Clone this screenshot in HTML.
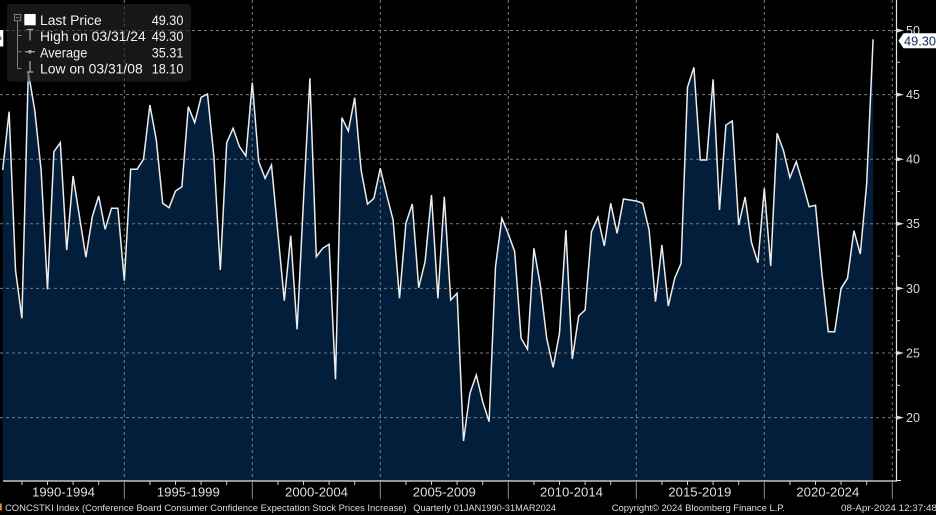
<!DOCTYPE html>
<html>
<head>
<meta charset="utf-8">
<style>
  html, body { margin: 0; padding: 0; background: #000; }
  body { width: 936px; height: 515px; overflow: hidden; }
  svg { display: block; }
  text { font-family: "Liberation Sans", "DejaVu Sans", sans-serif; }
</style>
</head>
<body>
<svg width="936" height="515" viewBox="0 0 936 515" xmlns="http://www.w3.org/2000/svg">
  <rect x="0" y="0" width="936" height="515" fill="#000"/>

  <!-- area fill -->
  <polygon fill="#031e3a" points="2.7,481 2.7,170 9.1,111.7 15.5,270 21.9,318.3 28.3,72 34.7,110 41.1,170 47.5,289.3 53.9,151.7 60.3,142.7 66.7,250 73.1,176 79.5,216.7 85.9,257.3 92.3,216.7 98.7,196 105.1,229.3 111.5,208.3 117.9,208.3 124.3,280.7 130.7,169.3 137.1,169.3 143.5,159.3 149.9,105 156.3,140 162.7,203.3 169.1,207.7 175.5,191 181.9,186.7 188.3,106.7 194.7,122.7 201.1,97.3 207.5,94 213.9,156.7 220.3,270 226.7,142.7 233.1,128.3 239.5,146.7 245.9,156 252.3,82.7 258.7,161.7 265.1,178.3 271.5,165 277.9,233 284.3,300.7 290.7,235.7 297.1,329.3 303.5,200 309.9,78.3 316.3,256.7 322.7,248.3 329.1,244.3 335.5,379.3 341.9,117.7 348.3,131 354.7,97.7 361.1,170 367.5,204 373.9,198.3 380.3,168.3 386.7,195 393.1,220 399.5,298.3 405.9,223.3 412.3,204 418.7,287.7 425.1,261.7 431.5,195 437.9,298.3 444.3,196.7 450.7,300 457.1,293.3 463.5,441 469.9,393.3 476.3,375 482.7,401.7 489.1,421.7 495.5,266.7 501.9,218.3 508.3,234 514.7,251.7 521.1,338.3 527.5,349.3 533.9,248.3 540.3,285 546.7,338.3 553.1,367.3 559.5,333.3 565.9,230 572.3,359 578.7,316 585.1,310 591.5,231.7 597.9,217.3 604.3,246 610.7,203.3 617.1,233.3 623.5,199 629.9,200 636.3,201 642.7,203.3 649.1,230 655.5,301.7 661.9,245 668.3,306 674.7,278.3 681.1,263.3 687.5,87.3 693.9,67.3 700.3,160 706.7,160 713.1,79.3 719.5,210 725.9,125 732.3,121 738.7,225 745.1,197 751.5,242.5 757.9,262.7 764.3,188.3 770.7,266 777.1,133.3 783.5,150.7 789.9,177.7 796.3,161.7 802.7,183.3 809.1,206.7 815.5,205.3 821.9,273.3 828.3,331.7 834.7,331.7 841.1,288.3 847.5,278.3 853.9,230.7 860.3,254 866.7,183.3 873.1,39.3 873.1,481"/>

  <!-- horizontal grid -->
  <g stroke="#7a7a7a" stroke-width="1" stroke-dasharray="3,3" fill="none">
    <line x1="0" y1="30.5" x2="896" y2="30.5"/>
    <line x1="0" y1="94.6" x2="896" y2="94.6"/>
    <line x1="0" y1="159.2" x2="896" y2="159.2"/>
    <line x1="0" y1="223.8" x2="896" y2="223.8"/>
    <line x1="0" y1="288.4" x2="896" y2="288.4"/>
    <line x1="0" y1="353" x2="896" y2="353"/>
    <line x1="0" y1="417.6" x2="896" y2="417.6"/>
    <!-- vertical grid -->
    <line x1="124.3" y1="0" x2="124.3" y2="481"/>
    <line x1="252.3" y1="0" x2="252.3" y2="481"/>
    <line x1="380.3" y1="0" x2="380.3" y2="481"/>
    <line x1="508.3" y1="0" x2="508.3" y2="481"/>
    <line x1="636.3" y1="0" x2="636.3" y2="481"/>
    <line x1="764.3" y1="0" x2="764.3" y2="481"/>
    <line x1="892.3" y1="0" x2="892.3" y2="481"/>
  </g>

  <!-- data line -->
  <polyline fill="none" stroke="#ececec" stroke-width="1.5" stroke-linejoin="miter" points="2.7,170 9.1,111.7 15.5,270 21.9,318.3 28.3,72 34.7,110 41.1,170 47.5,289.3 53.9,151.7 60.3,142.7 66.7,250 73.1,176 79.5,216.7 85.9,257.3 92.3,216.7 98.7,196 105.1,229.3 111.5,208.3 117.9,208.3 124.3,280.7 130.7,169.3 137.1,169.3 143.5,159.3 149.9,105 156.3,140 162.7,203.3 169.1,207.7 175.5,191 181.9,186.7 188.3,106.7 194.7,122.7 201.1,97.3 207.5,94 213.9,156.7 220.3,270 226.7,142.7 233.1,128.3 239.5,146.7 245.9,156 252.3,82.7 258.7,161.7 265.1,178.3 271.5,165 277.9,233 284.3,300.7 290.7,235.7 297.1,329.3 303.5,200 309.9,78.3 316.3,256.7 322.7,248.3 329.1,244.3 335.5,379.3 341.9,117.7 348.3,131 354.7,97.7 361.1,170 367.5,204 373.9,198.3 380.3,168.3 386.7,195 393.1,220 399.5,298.3 405.9,223.3 412.3,204 418.7,287.7 425.1,261.7 431.5,195 437.9,298.3 444.3,196.7 450.7,300 457.1,293.3 463.5,441 469.9,393.3 476.3,375 482.7,401.7 489.1,421.7 495.5,266.7 501.9,218.3 508.3,234 514.7,251.7 521.1,338.3 527.5,349.3 533.9,248.3 540.3,285 546.7,338.3 553.1,367.3 559.5,333.3 565.9,230 572.3,359 578.7,316 585.1,310 591.5,231.7 597.9,217.3 604.3,246 610.7,203.3 617.1,233.3 623.5,199 629.9,200 636.3,201 642.7,203.3 649.1,230 655.5,301.7 661.9,245 668.3,306 674.7,278.3 681.1,263.3 687.5,87.3 693.9,67.3 700.3,160 706.7,160 713.1,79.3 719.5,210 725.9,125 732.3,121 738.7,225 745.1,197 751.5,242.5 757.9,262.7 764.3,188.3 770.7,266 777.1,133.3 783.5,150.7 789.9,177.7 796.3,161.7 802.7,183.3 809.1,206.7 815.5,205.3 821.9,273.3 828.3,331.7 834.7,331.7 841.1,288.3 847.5,278.3 853.9,230.7 860.3,254 866.7,183.3 873.1,39.3"/>

  <!-- axes -->
  <line x1="3" y1="481" x2="897" y2="481" stroke="#e6e6e6" stroke-width="1.2"/>
  <line x1="896.5" y1="0" x2="896.5" y2="481" stroke="#e6e6e6" stroke-width="1.2"/>
  <line x1="896" y1="480.5" x2="901" y2="480.5" stroke="#e6e6e6" stroke-width="1"/>

  <!-- x major separators -->
  <g stroke="#8a8a8a" stroke-width="1">
    <line x1="124.3" y1="481" x2="124.3" y2="499"/>
    <line x1="252.3" y1="481" x2="252.3" y2="499"/>
    <line x1="380.3" y1="481" x2="380.3" y2="499"/>
    <line x1="508.3" y1="481" x2="508.3" y2="499"/>
    <line x1="636.3" y1="481" x2="636.3" y2="499"/>
    <line x1="764.3" y1="481" x2="764.3" y2="499"/>
    <line x1="892.3" y1="481" x2="892.3" y2="499"/>
  </g>
  <!-- x minor ticks (years) -->
  <g stroke="#d0d0d0" stroke-width="1">
    <line x1="21.9" y1="481" x2="21.9" y2="485"/>
    <line x1="47.5" y1="481" x2="47.5" y2="485"/>
    <line x1="73.1" y1="481" x2="73.1" y2="485"/>
    <line x1="98.7" y1="481" x2="98.7" y2="485"/>
    <line x1="149.9" y1="481" x2="149.9" y2="485"/>
    <line x1="175.5" y1="481" x2="175.5" y2="485"/>
    <line x1="201.1" y1="481" x2="201.1" y2="485"/>
    <line x1="226.7" y1="481" x2="226.7" y2="485"/>
    <line x1="277.9" y1="481" x2="277.9" y2="485"/>
    <line x1="303.5" y1="481" x2="303.5" y2="485"/>
    <line x1="329.1" y1="481" x2="329.1" y2="485"/>
    <line x1="354.7" y1="481" x2="354.7" y2="485"/>
    <line x1="405.9" y1="481" x2="405.9" y2="485"/>
    <line x1="431.5" y1="481" x2="431.5" y2="485"/>
    <line x1="457.1" y1="481" x2="457.1" y2="485"/>
    <line x1="482.7" y1="481" x2="482.7" y2="485"/>
    <line x1="533.9" y1="481" x2="533.9" y2="485"/>
    <line x1="559.5" y1="481" x2="559.5" y2="485"/>
    <line x1="585.1" y1="481" x2="585.1" y2="485"/>
    <line x1="610.7" y1="481" x2="610.7" y2="485"/>
    <line x1="661.9" y1="481" x2="661.9" y2="485"/>
    <line x1="687.5" y1="481" x2="687.5" y2="485"/>
    <line x1="713.1" y1="481" x2="713.1" y2="485"/>
    <line x1="738.7" y1="481" x2="738.7" y2="485"/>
    <line x1="789.9" y1="481" x2="789.9" y2="485"/>
    <line x1="815.5" y1="481" x2="815.5" y2="485"/>
    <line x1="841.1" y1="481" x2="841.1" y2="485"/>
    <line x1="866.7" y1="481" x2="866.7" y2="485"/>
  </g>

  <!-- x labels -->
  <g fill="#dedede" font-size="13" text-anchor="middle">
    <text x="63.5" y="496.5" textLength="63" lengthAdjust="spacingAndGlyphs">1990-1994</text>
    <text x="188.3" y="496.5" textLength="63" lengthAdjust="spacingAndGlyphs">1995-1999</text>
    <text x="316.5" y="496.5" textLength="63" lengthAdjust="spacingAndGlyphs">2000-2004</text>
    <text x="444.3" y="496.5" textLength="63" lengthAdjust="spacingAndGlyphs">2005-2009</text>
    <text x="571.5" y="496.5" textLength="63" lengthAdjust="spacingAndGlyphs">2010-2014</text>
    <text x="699.8" y="496.5" textLength="63" lengthAdjust="spacingAndGlyphs">2015-2019</text>
    <text x="827.8" y="496.5" textLength="63" lengthAdjust="spacingAndGlyphs">2020-2024</text>
  </g>

  <!-- y minor ticks -->
  <g stroke="#d0d0d0" stroke-width="1">
    <line x1="896" y1="62.3" x2="900" y2="62.3"/>
    <line x1="896" y1="126.9" x2="900" y2="126.9"/>
    <line x1="896" y1="191.5" x2="900" y2="191.5"/>
    <line x1="896" y1="256.1" x2="900" y2="256.1"/>
    <line x1="896" y1="320.7" x2="900" y2="320.7"/>
    <line x1="896" y1="385.3" x2="900" y2="385.3"/>
    <line x1="896" y1="449.9" x2="900" y2="449.9"/>
  </g>
  <!-- y major tick markers -->
  <g fill="#d6d6d6">
    <polygon points="897,92.6 904,94.6 897,96.6"/>
    <polygon points="897,157.2 904,159.2 897,161.2"/>
    <polygon points="897,221.8 904,223.8 897,225.8"/>
    <polygon points="897,286.4 904,288.4 897,290.4"/>
    <polygon points="897,351 904,353 897,355"/>
    <polygon points="897,415.6 904,417.6 897,419.6"/>
    <polygon points="897,28.5 904,30.5 897,32.5"/>
  </g>
  <!-- y labels -->
  <g fill="#dadada" font-size="12.5">
    <text x="906" y="34.8">50</text>
    <text x="906" y="99">45</text>
    <text x="906" y="163.6">40</text>
    <text x="906" y="228.2">35</text>
    <text x="906" y="292.8">30</text>
    <text x="906" y="357.4">25</text>
    <text x="906" y="422">20</text>
  </g>

  <!-- last value tag -->
  <polygon points="898.5,40.7 903.5,33.3 936,33.3 936,48.2 903.5,48.2" fill="#ffffff"/>
  <text x="904" y="45.6" fill="#0e2a50" font-size="13" textLength="32" lengthAdjust="spacingAndGlyphs">49.30</text>

  <!-- left edge marker -->
  <rect x="0" y="30" width="3.3" height="16.5" fill="#ffffff"/>
  <rect x="0" y="36.5" width="1.3" height="3.5" fill="#3a78c0"/>

  <!-- legend -->
  <rect x="7" y="4" width="184" height="77.5" rx="3.5" fill="#262626" fill-opacity="0.6"/>
  <g stroke="#808080" stroke-width="1" fill="none">
    <rect x="14.5" y="14.5" width="6.3" height="6.3"/>
    <line x1="15.8" y1="17.7" x2="19.6" y2="17.7"/>
    <line x1="17.5" y1="21" x2="17.5" y2="68.5"/>
    <line x1="17.5" y1="35.5" x2="21.5" y2="35.5"/>
    <line x1="17.5" y1="51.7" x2="21.5" y2="51.7"/>
    <line x1="17.5" y1="68.5" x2="21.5" y2="68.5"/>
  </g>
  <g stroke="#a8a8a8" stroke-width="1.2" fill="none">
    <line x1="26.7" y1="29.5" x2="33.3" y2="29.5"/>
    <line x1="30" y1="29.5" x2="30" y2="40.5"/>
    <line x1="25" y1="51.7" x2="35" y2="51.7"/>
    <line x1="30" y1="61" x2="30" y2="72"/>
    <line x1="26.7" y1="72" x2="33.3" y2="72"/>
  </g>
  <circle cx="30" cy="51.7" r="1.8" fill="#a8a8a8"/>
  <rect x="24.3" y="14" width="11.4" height="11.3" fill="#ffffff"/>

  <g fill="#f2f2f2" font-size="13.5">
    <text x="40" y="25" textLength="61.7" lengthAdjust="spacingAndGlyphs">Last Price</text>
    <text x="40" y="41" textLength="105.7" lengthAdjust="spacingAndGlyphs">High on 03/31/24</text>
    <text x="40" y="57.3" textLength="47.3" lengthAdjust="spacingAndGlyphs">Average</text>
    <text x="40" y="73.3" textLength="102.7" lengthAdjust="spacingAndGlyphs">Low on 03/31/08</text>
    <text x="151.7" y="25" textLength="31.7" lengthAdjust="spacingAndGlyphs">49.30</text>
    <text x="151.7" y="41" textLength="31.7" lengthAdjust="spacingAndGlyphs">49.30</text>
    <text x="151.7" y="57.3" textLength="31.7" lengthAdjust="spacingAndGlyphs">35.31</text>
    <text x="151.7" y="73.3" textLength="31.7" lengthAdjust="spacingAndGlyphs">18.10</text>
  </g>

  <!-- footer -->
  <rect x="0" y="503.5" width="1.8" height="7" fill="#e08a2a"/>
  <g fill="#dcdcdc" font-size="9.5">
    <text x="5" y="511" textLength="401.7" lengthAdjust="spacingAndGlyphs">CONCSTKI Index (Conference Board Consumer Confidence Expectation Stock Prices Increase)</text>
    <text x="413.3" y="511" textLength="142.7" lengthAdjust="spacingAndGlyphs">Quarterly 01JAN1990-31MAR2024</text>
    <text x="611.7" y="511" textLength="173.3" lengthAdjust="spacingAndGlyphs">Copyright© 2024 Bloomberg Finance L.P.</text>
    <text x="841" y="511" textLength="96" lengthAdjust="spacingAndGlyphs">08-Apr-2024 12:37:48</text>
  </g>
</svg>
</body>
</html>
